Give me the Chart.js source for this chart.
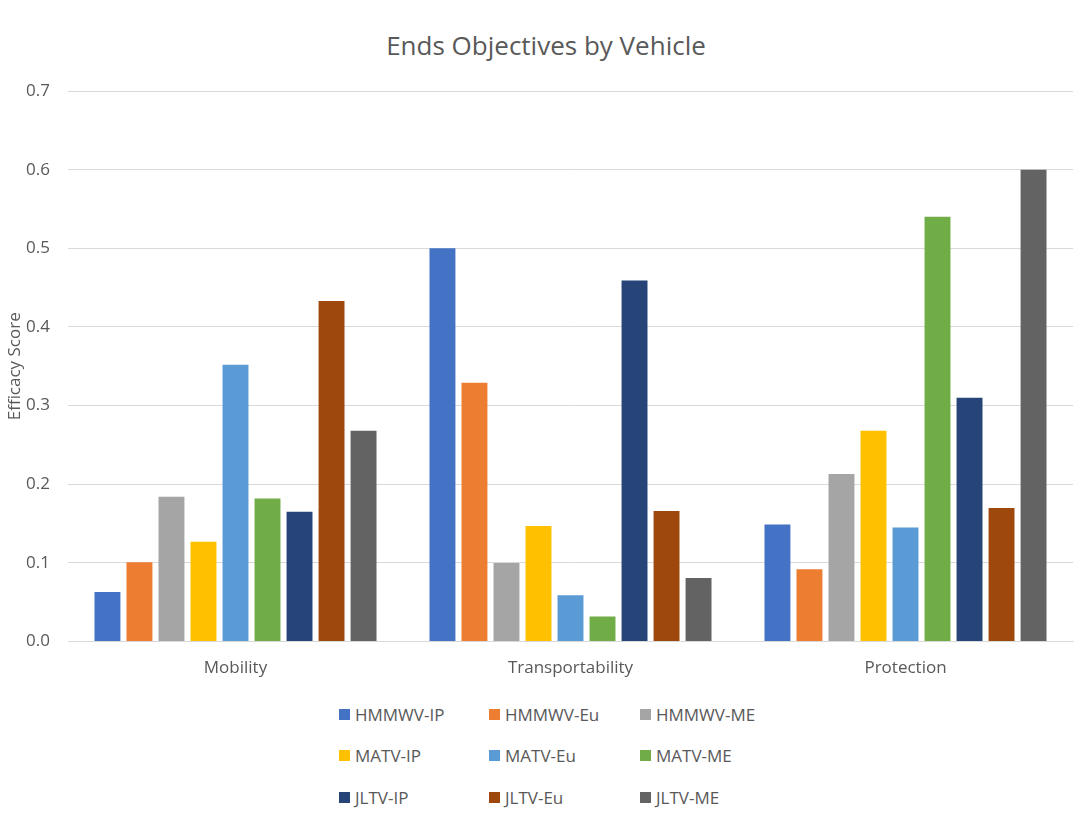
<!DOCTYPE html>
<html>
<head>
<meta charset="utf-8">
<script src="https://cdn.jsdelivr.net/npm/chart.js@4"></script>
<style>
  body { margin: 0; background: #fff; }
  #wrap { position: relative; width: 1088px; height: 833px; }
  #chartTitle {
    position: absolute; left: 0; top: 28px; width: 1092px; text-align: center;
    font-family: "Open Sans", sans-serif; font-size: 26px; line-height: 34px; color: #595959;
  }
  #chartBox { position: absolute; left: 0; top: 0; width: 1088px; height: 696px; }
  #legend {
    position: absolute; left: 339px; top: 703px;
    display: grid; grid-template-columns: 150px 151px 150px; grid-auto-rows: 41.5px;
    font-family: "Open Sans", sans-serif; font-size: 17px; color: #595959;
  }
  .item { display: flex; align-items: center; height: 22px; }
  .swatch { width: 11px; height: 11px; margin-right: 5px; }
</style>
</head>
<body>
<div id="wrap">
  <div id="chartTitle">Ends Objectives by Vehicle</div>
  <div id="chartBox"><canvas id="barChartVehicle"></canvas></div>
  <div id="legend"></div>
</div>
<script>
const categories = ['Mobility', 'Transportability', 'Protection'];
const seriesNames = ['HMMWV-IP', 'HMMWV-Eu', 'HMMWV-ME', 'MATV-IP', 'MATV-Eu', 'MATV-ME', 'JLTV-IP', 'JLTV-Eu', 'JLTV-ME'];
const seriesColors = ['#4472C4', '#ED7D31', '#A5A5A5', '#FFC000', '#5B9BD5', '#70AD47', '#264478', '#9E480E', '#636363'];

// one array per vehicle: Mobility, Transportability, Protection
const hmmwvIP = [0.063, 0.500, 0.149];
const hmmwvEu = [0.101, 0.329, 0.092];
const hmmwvME = [0.184, 0.100, 0.213];
const matvIP = [0.127, 0.147, 0.268];
const matvEu = [0.352, 0.059, 0.145];
const matvME = [0.182, 0.032, 0.540];
const jltvIP = [0.165, 0.459, 0.310];
const jltvEu = [0.433, 0.166, 0.170];
const jltvME = [0.268, 0.081, 0.600];
const seriesValues = [hmmwvIP, hmmwvEu, hmmwvME, matvIP, matvEu, matvME, jltvIP, jltvEu, jltvME];

const yTicks = [0, 0.1, 0.2, 0.3, 0.4, 0.5, 0.6, 0.7];

const textColor = '#595959';
const gridColor = '#d9d9d9';
const fontFamily = '"Open Sans", sans-serif';

const datasets = seriesNames.map((name, i) => ({
    label: name,
    data: seriesValues[i],
    backgroundColor: seriesColors[i],
    borderWidth: 0,
    categoryPercentage: 0.86,
    barPercentage: 0.81
}));

const ctx = document.getElementById('barChartVehicle').getContext('2d');
new Chart(ctx, {
    type: 'bar',
    data: { labels: categories, datasets: datasets },
    options: {
        responsive: true,
        maintainAspectRatio: false,
        animation: false,
        layout: { padding: { top: 91, right: 15, bottom: 2, left: 0 } },
        plugins: {
            legend: { display: false },
            tooltip: { enabled: false },
            title: { display: false }
        },
        scales: {
            x: {
                grid: { display: false, drawTicks: false },
                border: { display: true, color: gridColor, width: 1 },
                ticks: {
                    color: textColor,
                    font: { family: fontFamily, size: 17 },
                    padding: 16
                }
            },
            y: {
                min: 0,
                max: 0.7,
                afterBuildTicks: scale => { scale.ticks = yTicks.map(v => ({ value: v })); },
                afterFit: scale => { scale.width = 68; },
                grid: { color: gridColor, lineWidth: 1, drawTicks: false },
                border: { display: false },
                ticks: {
                    color: textColor,
                    font: { family: fontFamily, size: 17 },
                    padding: 18,
                    callback: v => Number(v).toFixed(1)
                },
                title: {
                    display: true,
                    text: 'Efficacy Score',
                    color: textColor,
                    font: { family: fontFamily, size: 17 },
                    padding: 5
                }
            }
        }
    }
});

// legend laid out as a 3x3 grid like the original
const legend = document.getElementById('legend');
seriesNames.forEach((name, i) => {
    const item = document.createElement('div');
    item.className = 'item';
    item.innerHTML = `<span class="swatch" style="background:${seriesColors[i]}"></span><span>${name}</span>`;
    legend.appendChild(item);
});
</script>
</body>
</html>
